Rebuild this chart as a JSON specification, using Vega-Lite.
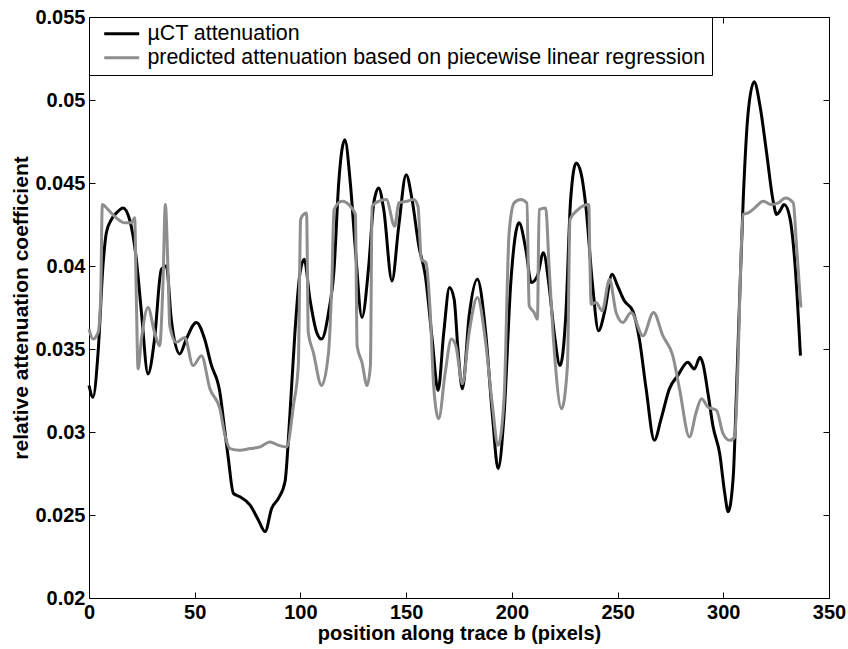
{
  "$schema": "https://vega.github.io/schema/vega-lite/v6.json",
  "width": 740,
  "height": 581,
  "autosize": {"type": "none"},
  "padding": {"left": 89, "top": 17, "right": 19, "bottom": 51},
  "background": "white",
  "config": {
    "font": "Liberation Sans",
    "view": {"stroke": "#000000", "strokeWidth": 1},
    "axis": {
      "grid": false,
      "domain": false,
      "tickColor": "#000000",
      "tickSize": -6,
      "labelFlush": false,
      "labelColor": "#000000",
      "labelFont": "Liberation Sans",
      "labelFontSize": 20,
      "labelFontWeight": "bold",
      "titleColor": "#000000",
      "titleFont": "Liberation Sans",
      "titleFontSize": 20,
      "titleFontWeight": "bold"
    },
    "legend": {
      "orient": "top-left",
      "offset": 0,
      "strokeColor": "#000000",
      "fillColor": "#ffffff",
      "padding": 6,
      "labelFont": "Liberation Sans",
      "labelFontSize": 21.4,
      "labelColor": "#000000",
      "labelLimit": 800,
      "labelOffset": 15,
      "symbolOffset": 16,
      "symbolType": "M-3,0H3",
      "symbolStrokeWidth": 3,
      "symbolSize": 136,
      "rowPadding": 1
    }
  },
  "datasets": {
    "d": [
      {"x": 0, "v": 0.0328, "s": "µCT attenuation"},
      {"x": 1.9, "v": 0.0321, "s": "µCT attenuation"},
      {"x": 4.3, "v": 0.0348, "s": "µCT attenuation"},
      {"x": 6.6, "v": 0.040, "s": "µCT attenuation"},
      {"x": 8.2, "v": 0.042, "s": "µCT attenuation"},
      {"x": 10.6, "v": 0.0428, "s": "µCT attenuation"},
      {"x": 13, "v": 0.0432, "s": "µCT attenuation"},
      {"x": 16.1, "v": 0.0435, "s": "µCT attenuation"},
      {"x": 19.2, "v": 0.0428, "s": "µCT attenuation"},
      {"x": 22.4, "v": 0.0404, "s": "µCT attenuation"},
      {"x": 24.8, "v": 0.0372, "s": "µCT attenuation"},
      {"x": 27.9, "v": 0.0335, "s": "µCT attenuation"},
      {"x": 31, "v": 0.0356, "s": "µCT attenuation"},
      {"x": 34.2, "v": 0.0398, "s": "µCT attenuation"},
      {"x": 36.6, "v": 0.0400, "s": "µCT attenuation"},
      {"x": 38.9, "v": 0.0368, "s": "µCT attenuation"},
      {"x": 42.9, "v": 0.0347, "s": "µCT attenuation"},
      {"x": 46, "v": 0.0356, "s": "µCT attenuation"},
      {"x": 50.8, "v": 0.0366, "s": "µCT attenuation"},
      {"x": 54.7, "v": 0.0356, "s": "µCT attenuation"},
      {"x": 57.7, "v": 0.0341, "s": "µCT attenuation"},
      {"x": 61.9, "v": 0.0324, "s": "µCT attenuation"},
      {"x": 64.3, "v": 0.030, "s": "µCT attenuation"},
      {"x": 65.9, "v": 0.0284, "s": "µCT attenuation"},
      {"x": 68.3, "v": 0.0263, "s": "µCT attenuation"},
      {"x": 71.4, "v": 0.0261, "s": "µCT attenuation"},
      {"x": 76.2, "v": 0.0256, "s": "µCT attenuation"},
      {"x": 80.1, "v": 0.0247, "s": "µCT attenuation"},
      {"x": 83.3, "v": 0.0240, "s": "µCT attenuation"},
      {"x": 86.4, "v": 0.0254, "s": "µCT attenuation"},
      {"x": 89.6, "v": 0.026, "s": "µCT attenuation"},
      {"x": 92.7, "v": 0.027, "s": "µCT attenuation"},
      {"x": 95, "v": 0.031, "s": "µCT attenuation"},
      {"x": 97.4, "v": 0.036, "s": "µCT attenuation"},
      {"x": 99.8, "v": 0.0396, "s": "µCT attenuation"},
      {"x": 101.8, "v": 0.0404, "s": "µCT attenuation"},
      {"x": 104.5, "v": 0.038, "s": "µCT attenuation"},
      {"x": 107.7, "v": 0.036, "s": "µCT attenuation"},
      {"x": 110, "v": 0.0356, "s": "µCT attenuation"},
      {"x": 113.3, "v": 0.0372, "s": "µCT attenuation"},
      {"x": 115.9, "v": 0.0398, "s": "µCT attenuation"},
      {"x": 118.1, "v": 0.045, "s": "µCT attenuation"},
      {"x": 121, "v": 0.0476, "s": "µCT attenuation"},
      {"x": 123.6, "v": 0.045, "s": "µCT attenuation"},
      {"x": 126, "v": 0.041, "s": "µCT attenuation"},
      {"x": 129.1, "v": 0.0369, "s": "µCT attenuation"},
      {"x": 132.3, "v": 0.040, "s": "µCT attenuation"},
      {"x": 134.7, "v": 0.0438, "s": "µCT attenuation"},
      {"x": 137, "v": 0.0447, "s": "µCT attenuation"},
      {"x": 139.4, "v": 0.0434, "s": "µCT attenuation"},
      {"x": 143.3, "v": 0.0391, "s": "µCT attenuation"},
      {"x": 146.5, "v": 0.0424, "s": "µCT attenuation"},
      {"x": 150, "v": 0.0455, "s": "µCT attenuation"},
      {"x": 152.8, "v": 0.044, "s": "µCT attenuation"},
      {"x": 156, "v": 0.0412, "s": "µCT attenuation"},
      {"x": 159.1, "v": 0.0394, "s": "µCT attenuation"},
      {"x": 162.3, "v": 0.0356, "s": "µCT attenuation"},
      {"x": 165.1, "v": 0.0325, "s": "µCT attenuation"},
      {"x": 167.8, "v": 0.036, "s": "µCT attenuation"},
      {"x": 170.5, "v": 0.0387, "s": "µCT attenuation"},
      {"x": 172.7, "v": 0.038, "s": "µCT attenuation"},
      {"x": 174.5, "v": 0.035, "s": "µCT attenuation"},
      {"x": 176.6, "v": 0.0326, "s": "µCT attenuation"},
      {"x": 179.8, "v": 0.037, "s": "µCT attenuation"},
      {"x": 183.7, "v": 0.0392, "s": "µCT attenuation"},
      {"x": 187.6, "v": 0.036, "s": "µCT attenuation"},
      {"x": 190.8, "v": 0.031, "s": "µCT attenuation"},
      {"x": 193.5, "v": 0.0278, "s": "µCT attenuation"},
      {"x": 196.3, "v": 0.031, "s": "µCT attenuation"},
      {"x": 199.5, "v": 0.039, "s": "µCT attenuation"},
      {"x": 203.4, "v": 0.0426, "s": "µCT attenuation"},
      {"x": 206.6, "v": 0.041, "s": "µCT attenuation"},
      {"x": 209.2, "v": 0.039, "s": "µCT attenuation"},
      {"x": 212.1, "v": 0.0394, "s": "µCT attenuation"},
      {"x": 214.9, "v": 0.0408, "s": "µCT attenuation"},
      {"x": 217.6, "v": 0.0388, "s": "µCT attenuation"},
      {"x": 220, "v": 0.036, "s": "µCT attenuation"},
      {"x": 222.8, "v": 0.034, "s": "µCT attenuation"},
      {"x": 225.5, "v": 0.037, "s": "µCT attenuation"},
      {"x": 227.8, "v": 0.044, "s": "µCT attenuation"},
      {"x": 230.4, "v": 0.0462, "s": "µCT attenuation"},
      {"x": 232.7, "v": 0.0456, "s": "µCT attenuation"},
      {"x": 235, "v": 0.0436, "s": "µCT attenuation"},
      {"x": 238.2, "v": 0.0388, "s": "µCT attenuation"},
      {"x": 241, "v": 0.0361, "s": "µCT attenuation"},
      {"x": 243.8, "v": 0.0372, "s": "µCT attenuation"},
      {"x": 247.4, "v": 0.0395, "s": "µCT attenuation"},
      {"x": 250, "v": 0.0388, "s": "µCT attenuation"},
      {"x": 253.2, "v": 0.0379, "s": "µCT attenuation"},
      {"x": 257.2, "v": 0.0373, "s": "µCT attenuation"},
      {"x": 260.3, "v": 0.0356, "s": "µCT attenuation"},
      {"x": 263.5, "v": 0.0326, "s": "µCT attenuation"},
      {"x": 267.4, "v": 0.0295, "s": "µCT attenuation"},
      {"x": 270.6, "v": 0.0308, "s": "µCT attenuation"},
      {"x": 274.5, "v": 0.0326, "s": "µCT attenuation"},
      {"x": 278.5, "v": 0.0334, "s": "µCT attenuation"},
      {"x": 283.2, "v": 0.0342, "s": "µCT attenuation"},
      {"x": 286.3, "v": 0.0338, "s": "µCT attenuation"},
      {"x": 289, "v": 0.0345, "s": "µCT attenuation"},
      {"x": 290.4, "v": 0.0341, "s": "µCT attenuation"},
      {"x": 292.8, "v": 0.0323, "s": "µCT attenuation"},
      {"x": 295.2, "v": 0.0303, "s": "µCT attenuation"},
      {"x": 298.3, "v": 0.0287, "s": "µCT attenuation"},
      {"x": 300.7, "v": 0.0263, "s": "µCT attenuation"},
      {"x": 302.3, "v": 0.0252, "s": "µCT attenuation"},
      {"x": 304.7, "v": 0.0273, "s": "µCT attenuation"},
      {"x": 306.2, "v": 0.0323, "s": "µCT attenuation"},
      {"x": 307.8, "v": 0.0383, "s": "µCT attenuation"},
      {"x": 309.4, "v": 0.0439, "s": "µCT attenuation"},
      {"x": 311.8, "v": 0.0493, "s": "µCT attenuation"},
      {"x": 314.6, "v": 0.0511, "s": "µCT attenuation"},
      {"x": 317.3, "v": 0.0497, "s": "µCT attenuation"},
      {"x": 320.4, "v": 0.0469, "s": "µCT attenuation"},
      {"x": 323.6, "v": 0.0439, "s": "µCT attenuation"},
      {"x": 325.2, "v": 0.0431, "s": "µCT attenuation"},
      {"x": 326.7, "v": 0.0433, "s": "µCT attenuation"},
      {"x": 328.8, "v": 0.0437, "s": "µCT attenuation"},
      {"x": 331.5, "v": 0.0429, "s": "µCT attenuation"},
      {"x": 333.8, "v": 0.0403, "s": "µCT attenuation"},
      {"x": 336.5, "v": 0.0346, "s": "µCT attenuation"},

      {"x": 0, "v": 0.0362, "s": "predicted attenuation based on piecewise linear regression"},
      {"x": 1.9, "v": 0.0356, "s": "predicted attenuation based on piecewise linear regression"},
      {"x": 4.3, "v": 0.036, "s": "predicted attenuation based on piecewise linear regression"},
      {"x": 5.5, "v": 0.038, "s": "predicted attenuation based on piecewise linear regression"},
      {"x": 6.3, "v": 0.0437, "s": "predicted attenuation based on piecewise linear regression"},
      {"x": 9, "v": 0.0434, "s": "predicted attenuation based on piecewise linear regression"},
      {"x": 12.9, "v": 0.0429, "s": "predicted attenuation based on piecewise linear regression"},
      {"x": 16.9, "v": 0.0426, "s": "predicted attenuation based on piecewise linear regression"},
      {"x": 20, "v": 0.0426, "s": "predicted attenuation based on piecewise linear regression"},
      {"x": 21.6, "v": 0.0429, "s": "predicted attenuation based on piecewise linear regression"},
      {"x": 22.4, "v": 0.038, "s": "predicted attenuation based on piecewise linear regression"},
      {"x": 23.2, "v": 0.0338, "s": "predicted attenuation based on piecewise linear regression"},
      {"x": 24.8, "v": 0.0356, "s": "predicted attenuation based on piecewise linear regression"},
      {"x": 27.9, "v": 0.0375, "s": "predicted attenuation based on piecewise linear regression"},
      {"x": 31, "v": 0.036, "s": "predicted attenuation based on piecewise linear regression"},
      {"x": 33.4, "v": 0.0352, "s": "predicted attenuation based on piecewise linear regression"},
      {"x": 35, "v": 0.039, "s": "predicted attenuation based on piecewise linear regression"},
      {"x": 36.1, "v": 0.0437, "s": "predicted attenuation based on piecewise linear regression"},
      {"x": 37.4, "v": 0.0396, "s": "predicted attenuation based on piecewise linear regression"},
      {"x": 38.2, "v": 0.0364, "s": "predicted attenuation based on piecewise linear regression"},
      {"x": 41.3, "v": 0.0354, "s": "predicted attenuation based on piecewise linear regression"},
      {"x": 45.3, "v": 0.0357, "s": "predicted attenuation based on piecewise linear regression"},
      {"x": 49.2, "v": 0.034, "s": "predicted attenuation based on piecewise linear regression"},
      {"x": 53.2, "v": 0.0346, "s": "predicted attenuation based on piecewise linear regression"},
      {"x": 57.2, "v": 0.0326, "s": "predicted attenuation based on piecewise linear regression"},
      {"x": 61.9, "v": 0.0314, "s": "predicted attenuation based on piecewise linear regression"},
      {"x": 64.3, "v": 0.0298, "s": "predicted attenuation based on piecewise linear regression"},
      {"x": 66.7, "v": 0.029, "s": "predicted attenuation based on piecewise linear regression"},
      {"x": 71.4, "v": 0.0289, "s": "predicted attenuation based on piecewise linear regression"},
      {"x": 76.2, "v": 0.029, "s": "predicted attenuation based on piecewise linear regression"},
      {"x": 80.9, "v": 0.0291, "s": "predicted attenuation based on piecewise linear regression"},
      {"x": 85.6, "v": 0.0294, "s": "predicted attenuation based on piecewise linear regression"},
      {"x": 89.6, "v": 0.0292, "s": "predicted attenuation based on piecewise linear regression"},
      {"x": 93.5, "v": 0.0291, "s": "predicted attenuation based on piecewise linear regression"},
      {"x": 96.7, "v": 0.0316, "s": "predicted attenuation based on piecewise linear regression"},
      {"x": 99, "v": 0.034, "s": "predicted attenuation based on piecewise linear regression"},
      {"x": 100.1, "v": 0.0428, "s": "predicted attenuation based on piecewise linear regression"},
      {"x": 101.4, "v": 0.0431, "s": "predicted attenuation based on piecewise linear regression"},
      {"x": 102.9, "v": 0.0432, "s": "predicted attenuation based on piecewise linear regression"},
      {"x": 103.7, "v": 0.036, "s": "predicted attenuation based on piecewise linear regression"},
      {"x": 106.1, "v": 0.0348, "s": "predicted attenuation based on piecewise linear regression"},
      {"x": 110, "v": 0.0328, "s": "predicted attenuation based on piecewise linear regression"},
      {"x": 113.3, "v": 0.0348, "s": "predicted attenuation based on piecewise linear regression"},
      {"x": 114.8, "v": 0.0388, "s": "predicted attenuation based on piecewise linear regression"},
      {"x": 115.9, "v": 0.0434, "s": "predicted attenuation based on piecewise linear regression"},
      {"x": 119.7, "v": 0.0439, "s": "predicted attenuation based on piecewise linear regression"},
      {"x": 123.6, "v": 0.0436, "s": "predicted attenuation based on piecewise linear regression"},
      {"x": 126, "v": 0.0431, "s": "predicted attenuation based on piecewise linear regression"},
      {"x": 126.8, "v": 0.0352, "s": "predicted attenuation based on piecewise linear regression"},
      {"x": 129.1, "v": 0.0342, "s": "predicted attenuation based on piecewise linear regression"},
      {"x": 131.5, "v": 0.0328, "s": "predicted attenuation based on piecewise linear regression"},
      {"x": 133.1, "v": 0.034, "s": "predicted attenuation based on piecewise linear regression"},
      {"x": 133.9, "v": 0.0436, "s": "predicted attenuation based on piecewise linear regression"},
      {"x": 137, "v": 0.0439, "s": "predicted attenuation based on piecewise linear regression"},
      {"x": 140.6, "v": 0.044, "s": "predicted attenuation based on piecewise linear regression"},
      {"x": 144.6, "v": 0.0424, "s": "predicted attenuation based on piecewise linear regression"},
      {"x": 146.5, "v": 0.0438, "s": "predicted attenuation based on piecewise linear regression"},
      {"x": 150.4, "v": 0.0439, "s": "predicted attenuation based on piecewise linear regression"},
      {"x": 153.6, "v": 0.044, "s": "predicted attenuation based on piecewise linear regression"},
      {"x": 155.6, "v": 0.0436, "s": "predicted attenuation based on piecewise linear regression"},
      {"x": 157.2, "v": 0.0404, "s": "predicted attenuation based on piecewise linear regression"},
      {"x": 159.4, "v": 0.0402, "s": "predicted attenuation based on piecewise linear regression"},
      {"x": 161.4, "v": 0.0372, "s": "predicted attenuation based on piecewise linear regression"},
      {"x": 163, "v": 0.0328, "s": "predicted attenuation based on piecewise linear regression"},
      {"x": 165.4, "v": 0.0308, "s": "predicted attenuation based on piecewise linear regression"},
      {"x": 168.5, "v": 0.0336, "s": "predicted attenuation based on piecewise linear regression"},
      {"x": 171.4, "v": 0.0356, "s": "predicted attenuation based on piecewise linear regression"},
      {"x": 173.5, "v": 0.0352, "s": "predicted attenuation based on piecewise linear regression"},
      {"x": 176.6, "v": 0.0329, "s": "predicted attenuation based on piecewise linear regression"},
      {"x": 179.8, "v": 0.036, "s": "predicted attenuation based on piecewise linear regression"},
      {"x": 183.7, "v": 0.0381, "s": "predicted attenuation based on piecewise linear regression"},
      {"x": 187.6, "v": 0.0354, "s": "predicted attenuation based on piecewise linear regression"},
      {"x": 190.8, "v": 0.0316, "s": "predicted attenuation based on piecewise linear regression"},
      {"x": 193.5, "v": 0.0292, "s": "predicted attenuation based on piecewise linear regression"},
      {"x": 196.3, "v": 0.032, "s": "predicted attenuation based on piecewise linear regression"},
      {"x": 198.7, "v": 0.042, "s": "predicted attenuation based on piecewise linear regression"},
      {"x": 201.1, "v": 0.0438, "s": "predicted attenuation based on piecewise linear regression"},
      {"x": 204.2, "v": 0.044, "s": "predicted attenuation based on piecewise linear regression"},
      {"x": 207.1, "v": 0.0438, "s": "predicted attenuation based on piecewise linear regression"},
      {"x": 208.2, "v": 0.0376, "s": "predicted attenuation based on piecewise linear regression"},
      {"x": 210.5, "v": 0.0372, "s": "predicted attenuation based on piecewise linear regression"},
      {"x": 212.1, "v": 0.0368, "s": "predicted attenuation based on piecewise linear regression"},
      {"x": 212.9, "v": 0.0434, "s": "predicted attenuation based on piecewise linear regression"},
      {"x": 216, "v": 0.0435, "s": "predicted attenuation based on piecewise linear regression"},
      {"x": 217.6, "v": 0.040, "s": "predicted attenuation based on piecewise linear regression"},
      {"x": 220, "v": 0.035, "s": "predicted attenuation based on piecewise linear regression"},
      {"x": 223.5, "v": 0.0314, "s": "predicted attenuation based on piecewise linear regression"},
      {"x": 226.3, "v": 0.034, "s": "predicted attenuation based on piecewise linear regression"},
      {"x": 227.5, "v": 0.0428, "s": "predicted attenuation based on piecewise linear regression"},
      {"x": 231.3, "v": 0.0434, "s": "predicted attenuation based on piecewise linear regression"},
      {"x": 236.4, "v": 0.0437, "s": "predicted attenuation based on piecewise linear regression"},
      {"x": 236.9, "v": 0.0404, "s": "predicted attenuation based on piecewise linear regression"},
      {"x": 237.5, "v": 0.0377, "s": "predicted attenuation based on piecewise linear regression"},
      {"x": 239.8, "v": 0.0378, "s": "predicted attenuation based on piecewise linear regression"},
      {"x": 242.7, "v": 0.0373, "s": "predicted attenuation based on piecewise linear regression"},
      {"x": 246.2, "v": 0.0392, "s": "predicted attenuation based on piecewise linear regression"},
      {"x": 249.3, "v": 0.0372, "s": "predicted attenuation based on piecewise linear regression"},
      {"x": 252.5, "v": 0.0366, "s": "predicted attenuation based on piecewise linear regression"},
      {"x": 256.4, "v": 0.0372, "s": "predicted attenuation based on piecewise linear regression"},
      {"x": 262, "v": 0.0358, "s": "predicted attenuation based on piecewise linear regression"},
      {"x": 267, "v": 0.0372, "s": "predicted attenuation based on piecewise linear regression"},
      {"x": 271.4, "v": 0.0358, "s": "predicted attenuation based on piecewise linear regression"},
      {"x": 276.1, "v": 0.0346, "s": "predicted attenuation based on piecewise linear regression"},
      {"x": 279.3, "v": 0.0326, "s": "predicted attenuation based on piecewise linear regression"},
      {"x": 284, "v": 0.0297, "s": "predicted attenuation based on piecewise linear regression"},
      {"x": 287.2, "v": 0.0312, "s": "predicted attenuation based on piecewise linear regression"},
      {"x": 289.7, "v": 0.032, "s": "predicted attenuation based on piecewise linear regression"},
      {"x": 292.8, "v": 0.0315, "s": "predicted attenuation based on piecewise linear regression"},
      {"x": 296.8, "v": 0.0313, "s": "predicted attenuation based on piecewise linear regression"},
      {"x": 299.9, "v": 0.0299, "s": "predicted attenuation based on piecewise linear regression"},
      {"x": 303, "v": 0.0295, "s": "predicted attenuation based on piecewise linear regression"},
      {"x": 305.4, "v": 0.0297, "s": "predicted attenuation based on piecewise linear regression"},
      {"x": 307, "v": 0.0343, "s": "predicted attenuation based on piecewise linear regression"},
      {"x": 308.3, "v": 0.0403, "s": "predicted attenuation based on piecewise linear regression"},
      {"x": 309.4, "v": 0.0431, "s": "predicted attenuation based on piecewise linear regression"},
      {"x": 311.8, "v": 0.0432, "s": "predicted attenuation based on piecewise linear regression"},
      {"x": 314.9, "v": 0.0435, "s": "predicted attenuation based on piecewise linear regression"},
      {"x": 318.9, "v": 0.0439, "s": "predicted attenuation based on piecewise linear regression"},
      {"x": 322.8, "v": 0.0437, "s": "predicted attenuation based on piecewise linear regression"},
      {"x": 326, "v": 0.0438, "s": "predicted attenuation based on piecewise linear regression"},
      {"x": 329.4, "v": 0.0441, "s": "predicted attenuation based on piecewise linear regression"},
      {"x": 333.1, "v": 0.0438, "s": "predicted attenuation based on piecewise linear regression"},
      {"x": 334.6, "v": 0.0413, "s": "predicted attenuation based on piecewise linear regression"},
      {"x": 336.7, "v": 0.0375, "s": "predicted attenuation based on piecewise linear regression"}
    ]
  },
  "data": {"name": "d"},
  "layer": [
    {
      "mark": {"type": "line", "opacity": 0},
      "encoding": {
        "x": {"field": "x", "type": "quantitative", "scale": {"domain": [0, 350], "nice": false, "zero": false}, "axis": {"orient": "top", "labels": false, "title": null, "values": [0, 50, 100, 150, 200, 250, 300, 350]}},
        "y": {"field": "v", "type": "quantitative", "scale": {"domain": [0.02, 0.055], "nice": false, "zero": false}, "axis": {"orient": "right", "labels": false, "title": null, "values": [0.02, 0.025, 0.03, 0.035, 0.04, 0.045, 0.05, 0.055]}},
        "detail": {"field": "s"}
      }
    },
    {
      "transform": [{"filter": "datum.s == 'µCT attenuation'"}],
      "mark": {"type": "line", "strokeWidth": 3, "interpolate": "monotone"},
      "encoding": {
        "x": {
          "field": "x", "type": "quantitative",
          "axis": {"orient": "bottom", "title": "position along trace b (pixels)", "values": [0, 50, 100, 150, 200, 250, 300, 350], "labelPadding": 10, "titlePadding": 1}
        },
        "y": {
          "field": "v", "type": "quantitative",
          "axis": {"orient": "left", "title": "relative attenuation coefficient", "titleFontSize": 21, "values": [0.02, 0.025, 0.03, 0.035, 0.04, 0.045, 0.05, 0.055], "format": "~g", "labelPadding": 10, "titlePadding": 3}
        },
        "color": {
          "field": "s", "type": "nominal",
          "scale": {"domain": ["µCT attenuation", "predicted attenuation based on piecewise linear regression"], "range": ["#000000", "#8e8e8e"]},
          "legend": {"title": null}
        }
      }
    },
    {
      "transform": [{"filter": "datum.s != 'µCT attenuation'"}],
      "mark": {"type": "line", "strokeWidth": 3, "interpolate": "monotone"},
      "encoding": {
        "x": {"field": "x", "type": "quantitative", "axis": null},
        "y": {"field": "v", "type": "quantitative", "axis": null},
        "color": {"field": "s", "type": "nominal"}
      }
    }
  ],
  "resolve": {"axis": {"x": "independent", "y": "independent"}}
}
